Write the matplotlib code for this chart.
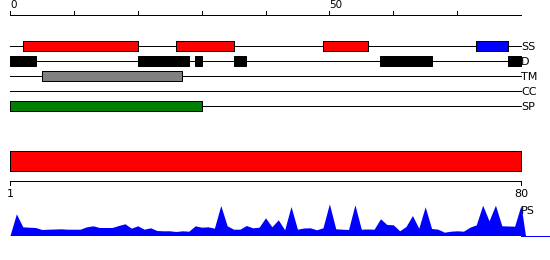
import matplotlib
matplotlib.use("Agg")
import matplotlib.pyplot as plt

# sequence length and feature spans (start, end) in residues
seq_len = 80
ruler_ticks = [0, 10, 20, 30, 40, 50, 60, 70]
ruler_labels = {0: "0", 50: "50"}

track_names = ["SS", "D", "TM", "CC", "SP"]
ss_helix = [(2, 20), (26, 35), (49, 56)]
ss_strand = [(73, 78)]
disorder = [(0, 4), (20, 28), (29, 30), (35, 37), (58, 66), (78, 80)]
transmem = [(5, 27)]
coiled = []
signal = [(0, 30)]
domain = [(0, 80)]

ps_scores = [21.7, 8.7, 8.3, 8.0, 6.0, 6.3, 6.5, 6.7, 6.3, 6.3,
             6.3, 8.7, 9.7, 8.0, 8.0, 8.0, 10.0, 11.7, 7.3, 9.7,
             6.3, 7.7, 5.0, 4.7, 4.7, 4.0, 4.7, 4.3, 9.7, 8.3,
             8.7, 7.3, 30.0, 9.7, 6.3, 6.3, 10.0, 7.7, 8.3, 17.7,
             8.7, 15.7, 5.7, 29.0, 6.3, 7.5, 7.7, 5.7, 7.7, 31.7,
             6.7, 6.3, 6.0, 30.7, 6.3, 6.5, 6.3, 16.7, 11.0, 10.7,
             4.7, 9.0, 20.0, 7.3, 28.7, 7.0, 6.3, 3.3, 4.3, 4.7,
             4.3, 8.3, 10.7, 30.3, 14.7, 30.3, 9.7, 9.5, 9.3, 30.3]

W, H = 550, 260
px = 511 / seq_len           # pixels per residue
x_lo = -10 / px
x_hi = seq_len + 29 / px
lw = 0.72
fs = 8

fig = plt.figure(figsize=(W / 100, H / 100), dpi=100)
ax = fig.add_axes([0, 0, 1, 1])
ax.set_xlim(x_lo, x_hi)
ax.set_ylim(H, 0)
ax.axis("off")

# top ruler
ruler_y = 15
ax.plot([0, seq_len], [ruler_y, ruler_y], color="black", lw=lw)
for t in ruler_ticks:
    ax.plot([t, t], [ruler_y, ruler_y - 4], color="black", lw=lw)
    if t in ruler_labels:
        ax.text(t, ruler_y - 6.5, ruler_labels[t], ha="left", va="baseline", fontsize=7.5)

# feature tracks
track_y = {"SS": 45.5, "D": 60.5, "TM": 75.5, "CC": 90.5, "SP": 105.5}
bar_h = 10


def spans(lst):
    return [(s, e - s) for s, e in lst]


for name in track_names:
    y = track_y[name]
    ax.plot([0, seq_len], [y, y], color="black", lw=lw, zorder=1)
    ax.text(seq_len, y + 0.5, name, ha="left", va="center_baseline", fontsize=fs)

tb = lambda n: (track_y[n] - bar_h / 2, bar_h)
ax.broken_barh(spans(ss_helix), tb("SS"), facecolor="#ff0000", edgecolor="black", lw=lw, zorder=2)
ax.broken_barh(spans(ss_strand), tb("SS"), facecolor="#0000ff", edgecolor="black", lw=lw, zorder=2)
ax.broken_barh(spans(disorder), tb("D"), facecolor="black", edgecolor="black", lw=lw, zorder=2)
ax.broken_barh(spans(transmem), tb("TM"), facecolor="#808080", edgecolor="black", lw=lw, zorder=2)
if coiled:
    ax.broken_barh(spans(coiled), tb("CC"), facecolor="#ffff00", edgecolor="black", lw=lw, zorder=2)
ax.broken_barh(spans(signal), tb("SP"), facecolor="#008000", edgecolor="black", lw=lw, zorder=2)

# domain bar and residue ruler
ax.broken_barh(spans(domain), (150.5, 20), facecolor="#ff0000", edgecolor="black", lw=lw)
ax.plot([0, seq_len], [180.5, 180.5], color="black", lw=lw)
for t, lab in [(0, "1"), (seq_len, str(seq_len))]:
    ax.plot([t, t], [180.5, 185], color="black", lw=lw)
    ax.text(t, 189, lab, ha="center", va="top", fontsize=fs)
ax.text(seq_len, 210.5, "PS", ha="left", va="center_baseline", fontsize=fs)

# PS profile
ps_ax = fig.add_axes([0, (H - 235.5) / H, 1, 35 / H])
ps_ax.set_xlim(x_lo, x_hi)
ps_ax.set_ylim(0, 35)
ps_ax.patch.set_alpha(0)
xs = [0] + list(range(1, seq_len + 1)) + [seq_len + 0.7]
ys = [0] + ps_scores + [0]
ps_ax.fill_between(xs, ys, 0, color="#0000ff", lw=0)
for s in ["top", "left", "right"]:
    ps_ax.spines[s].set_visible(False)
ps_ax.spines["bottom"].set_color("#0000ff")
ps_ax.spines["bottom"].set_linewidth(lw)
ps_ax.spines["bottom"].set_bounds(seq_len, x_hi)
ps_ax.set_xticks([])
ps_ax.set_yticks([])

fig.savefig("out.png", dpi=100)
